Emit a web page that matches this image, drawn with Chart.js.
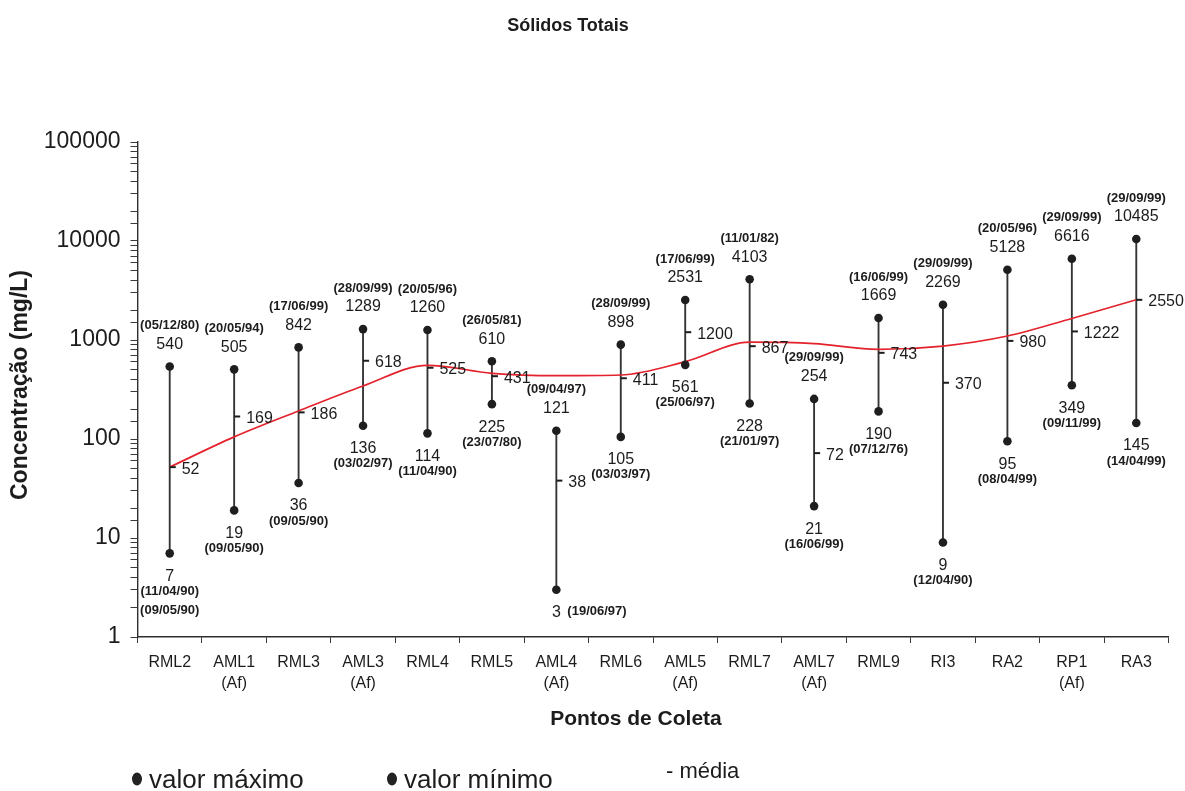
<!DOCTYPE html>
<html lang="pt">
<head>
<meta charset="utf-8">
<title>Sólidos Totais</title>
<script src="https://cdn.jsdelivr.net/npm/chart.js@4.4.1/dist/chart.umd.min.js"></script>
<style>
  html, body { margin: 0; padding: 0; background: #ffffff; }
  canvas { display: block; }
</style>
</head>
<body>
<canvas id="grafico" width="1185" height="791"></canvas>
<script>
// Pontos de coleta (eixo x)
const pontos = [
  ['RML2'], ['AML1', '(Af)'], ['RML3'], ['AML3', '(Af)'], ['RML4'], ['RML5'],
  ['AML4', '(Af)'], ['RML6'], ['AML5', '(Af)'], ['RML7'], ['AML7', '(Af)'],
  ['RML9'], ['RI3'], ['RA2'], ['RP1', '(Af)'], ['RA3']
];

// Valores máximos (mg/L) e datas
const valorMaximo = [540, 505, 842, 1289, 1260, 610, 121, 898, 2531, 4103, 254, 1669, 2269, 5128, 6616, 10485];
const dataMaximo = ['(05/12/80)', '(20/05/94)', '(17/06/99)', '(28/09/99)', '(20/05/96)', '(26/05/81)',
  '(09/04/97)', '(28/09/99)', '(17/06/99)', '(11/01/82)', '(29/09/99)', '(16/06/99)',
  '(29/09/99)', '(20/05/96)', '(29/09/99)', '(29/09/99)'];

// Valores mínimos (mg/L) e datas
const valorMinimo = [7, 19, 36, 136, 114, 225, 3, 105, 561, 228, 21, 190, 9, 95, 349, 145];
const dataMinimo = [['(11/04/90)', '(09/05/90)'], '(09/05/90)', '(09/05/90)', '(03/02/97)', '(11/04/90)',
  '(23/07/80)', '(19/06/97)', '(03/03/97)', '(25/06/97)', '(21/01/97)', '(16/06/99)',
  '(07/12/76)', '(12/04/90)', '(08/04/99)', '(09/11/99)', '(14/04/99)'];

// Médias (mg/L)
const media = [52, 169, 186, 618, 525, 431, 38, 411, 1200, 867, 72, 743, 370, 980, 1222, 2550];

// Linha de tendência das médias
const tendencia = [52, 105, 192, 343, 555, 461, 436, 443, 604, 950, 920, 805, 869, 1097, 1650, 2550];

// Rótulos do eixo logarítmico
const yRotulos = [1, 10, 100, 1000, 10000, 100000];

const COR_TEXTO = '#1c1c1c';
const FAMILIA = '"Liberation Sans", Arial, sans-serif';
const FONTE_VALOR = '16px ' + FAMILIA;
const FONTE_DATA = 'bold 13px ' + FAMILIA;

// Traço curto à direita da linha vertical, usado para a média
const tracoMedia = (() => {
  const c = document.createElement('canvas');
  c.width = 16; c.height = 4;
  const g = c.getContext('2d');
  g.fillStyle = '#1c1c1c';
  g.fillRect(8, 1, 6, 2);
  return c;
})();

// Valores, datas e média escritos junto a cada ponto
const rotulos = {
  id: 'rotulos',
  afterDatasetsDraw(chart) {
    const ctx = chart.ctx;
    const mMax = chart.getDatasetMeta(2).data;
    const mMin = chart.getDatasetMeta(3).data;
    const mMed = chart.getDatasetMeta(4).data;
    ctx.save();
    ctx.fillStyle = COR_TEXTO;
    ctx.textBaseline = 'middle';
    pontos.forEach((_, i) => {
      const pMax = mMax[i], pMin = mMin[i], pMed = mMed[i];
      ctx.textAlign = 'center';
      ctx.font = FONTE_VALOR;
      ctx.fillText(String(valorMaximo[i]), pMax.x, pMax.y - 22);
      ctx.font = FONTE_DATA;
      ctx.fillText(dataMaximo[i], pMax.x, pMax.y - 41);

      ctx.font = FONTE_VALOR;
      ctx.fillText(String(valorMinimo[i]), pMin.x, pMin.y + 23);
      ctx.font = FONTE_DATA;
      const datas = [].concat(dataMinimo[i]);
      if (i === 6) {
        ctx.textAlign = 'left';
        ctx.fillText(datas[0], pMin.x + 11, pMin.y + 22);
      } else {
        datas.forEach((d, k) => ctx.fillText(d, pMin.x, pMin.y + 38 + k * 19));
      }

      ctx.textAlign = 'left';
      ctx.font = FONTE_VALOR;
      ctx.fillText(String(media[i]), pMed.x + 12, pMed.y + 2);
    });
    ctx.restore();
  }
};

// Título, títulos dos eixos e legenda
const textos = {
  id: 'textos',
  afterDraw(chart) {
    const ctx = chart.ctx;
    ctx.save();
    ctx.fillStyle = COR_TEXTO;
    ctx.textBaseline = 'middle';
    ctx.textAlign = 'center';
    ctx.font = 'bold 18px ' + FAMILIA;
    ctx.fillText('Sólidos Totais', 568, 26);

    ctx.font = 'bold 21px ' + FAMILIA;
    ctx.fillText('Pontos de Coleta', 636, 719);

    ctx.save();
    ctx.translate(21, 385);
    ctx.rotate(-Math.PI / 2);
    ctx.font = 'bold 23px ' + FAMILIA;
    ctx.fillText('Concentração (mg/L)', 0, 0);
    ctx.restore();

    // legenda
    ctx.fillStyle = '#222222';
    ctx.beginPath(); ctx.ellipse(137, 779, 5, 6.5, 0, 0, Math.PI * 2); ctx.fill();
    ctx.beginPath(); ctx.ellipse(392, 779, 5, 6.5, 0, 0, Math.PI * 2); ctx.fill();
    ctx.fillStyle = COR_TEXTO;
    ctx.textAlign = 'left';
    ctx.textBaseline = 'alphabetic';
    ctx.font = '26px ' + FAMILIA;
    ctx.fillText('valor máximo', 149, 788);
    ctx.fillText('valor mínimo', 404, 788);
    ctx.font = '22px ' + FAMILIA;
    ctx.fillText('- média', 666, 778);
    ctx.restore();
  }
};

const faixa = valorMinimo.map((v, i) => [v, valorMaximo[i]]);

new Chart(document.getElementById('grafico'), {
  type: 'bar',
  data: {
    labels: pontos,
    datasets: [
      {
        type: 'bar', data: faixa, order: 4,
        backgroundColor: '#333333', borderWidth: 0, barThickness: 1.2
      },
      {
        type: 'line', data: tendencia, order: 3,
        borderColor: '#e3222c', borderWidth: 1.7, pointRadius: 0,
        tension: 0.4, cubicInterpolationMode: 'monotone', fill: false
      },
      {
        type: 'line', data: valorMaximo, order: 1, showLine: false,
        pointRadius: 4.3, pointBackgroundColor: '#1e1e1e', pointBorderWidth: 0
      },
      {
        type: 'line', data: valorMinimo, order: 1, showLine: false,
        pointRadius: 4.3, pointBackgroundColor: '#1e1e1e', pointBorderWidth: 0
      },
      {
        type: 'line', data: media, order: 2, showLine: false,
        pointStyle: tracoMedia, pointRadius: 8
      }
    ]
  },
  options: {
    responsive: false,
    animation: false,
    devicePixelRatio: 1,
    layout: { padding: { top: 142, right: 16.5, bottom: 0, left: 0 } },
    plugins: { legend: { display: false }, title: { display: false }, tooltip: { enabled: false } },
    scales: {
      x: {
        type: 'category',
        offset: true,
        grid: { offset: true, drawOnChartArea: false, tickLength: 6, tickColor: '#3a3a3a', tickWidth: 1 },
        border: { display: true, color: '#2e2e2e', width: 1.4 },
        ticks: {
          color: COR_TEXTO, font: { family: FAMILIA, size: 16, lineHeight: 1.3 },
          padding: 9, maxRotation: 0, autoSkip: false
        },
        afterFit(s) { s.height = 154; }
      },
      y: {
        type: 'logarithmic',
        min: 1, max: 100000,
        grid: { drawOnChartArea: false, tickLength: 7, tickColor: '#3a3a3a', tickWidth: 1 },
        border: { display: true, color: '#2e2e2e', width: 1.4 },
        ticks: {
          autoSkip: false, padding: 10, color: COR_TEXTO,
          font: { family: FAMILIA, size: 23 },
          callback: (v) => yRotulos.includes(v) ? String(v) : ''
        },
        afterFit(s) { s.width = 137.5; }
      }
    }
  },
  plugins: [rotulos, textos]
});
</script>
</body>
</html>
